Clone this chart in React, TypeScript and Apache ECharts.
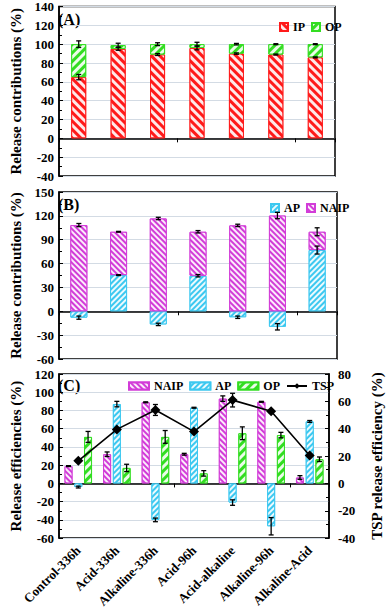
import React, { useEffect, useRef } from "react";
import * as echarts from "echarts";

const categories = ["Control-336h", "Acid-336h", "Alkaline-336h", "Acid-96h", "Acid-alkaline", "Alkaline-96h", "Alkaline-Acid"];

// Panel A (release contributions, %)
const ipA = [65, 95, 89, 96, 90, 89, 86];
const opA = [35, 4, 11, 4, 10, 11, 14];
const ipErrA = [2.8, 1.5, 1, 2, 0.7, 0.5, 0.5];
const totalErrA = [3.5, 2, 1.5, 2, 0.8, 0.5, 0.5];

// Panel B (release contributions, %)
const apB = [-8, 45.5, -16.5, 44.7, -7.5, -19.5, 77];
const naipB = [108.4, 54.5, 116.7, 55.3, 108, 120.4, 23];
const apErrB = [2, 0.5, 1.5, 1.5, 1.5, 4, 5];
const topErrB = [2, 0.5, 1.5, 1.5, 1.5, 4, 5];

// Panel C (release efficiencies, %)
const naipC = [19, 32, 89, 32, 93, 89.5, 6.5];
const apC = [-4, 87, -40, 83, -21, -47, 68];
const opC = [51, 17, 51, 11, 55, 53, 26.5];
const tspC = [16.5, 39.5, 53.7, 37.9, 60.9, 52.7, 20.4];
const naipErrC = [0.5, 2.5, 0.5, 1, 3, 0.5, 2];
const apErrC = [1, 3, 2, 0.5, 3, 9.5, 1];
const opErrC = [6, 4, 7, 3, 7, 3, 2.5];
const tspErrC = [1, 1, 4, 1, 5, 1, 1.5];

const FONT = "Liberation Serif";
const RED = "#ff1a1a";
const GREEN = "#33dd22";
const CYAN = "#3cc8f0";
const MAGENTA = "#d23cd8";
const GRIDLINE = "#d3dbe4";

const decal = (dir: number, gap = 3, w = 2) => ({
  symbol: "rect",
  symbolSize: 1,
  rotation: (dir * Math.PI) / 4,
  dashArrayX: [1, 0],
  dashArrayY: [w, gap],
  color: "rgba(255,255,255,0.9)",
});

function errSeries(xi: number, yi: number, centers: number[], errs: number[], offset = 0) {
  return {
    type: "custom",
    xAxisIndex: xi,
    yAxisIndex: yi,
    z: 10,
    silent: true,
    encode: { x: 0, y: 1 },
    data: centers.map((c, i) => [i, c, errs[i]]),
    renderItem: (params: any, api: any) => {
      const x = api.value(0);
      const y = api.value(1);
      const e = api.value(2);
      const t = api.coord([x, y + e]);
      const b = api.coord([x, y - e]);
      const cx = t[0] + offset;
      const cap = 2.5;
      const st = { stroke: "#000", lineWidth: 1.3 };
      return {
        type: "group",
        children: [
          { type: "line", shape: { x1: cx, y1: t[1], x2: cx, y2: b[1] }, style: st },
          { type: "line", shape: { x1: cx - cap, y1: t[1], x2: cx + cap, y2: t[1] }, style: st },
          { type: "line", shape: { x1: cx - cap, y1: b[1], x2: cx + cap, y2: b[1] }, style: st },
        ],
      };
    },
  };
}

const axisLabelStyle = { fontFamily: FONT, fontWeight: "bold", fontSize: 13, color: "#000" };
const nameStyle = { fontFamily: FONT, fontWeight: "bold", fontSize: 15, color: "#000" };

function valueAxis(gi: number, min: number, max: number, interval: number, name: string, extra: any = {}) {
  return {
    type: "value",
    gridIndex: gi,
    min,
    max,
    interval,
    name,
    nameLocation: "middle",
    nameGap: 36,
    nameTextStyle: nameStyle,
    axisLine: { show: true, lineStyle: { color: "#000", width: 1.5 } },
    axisTick: { show: true, inside: true, length: 4, lineStyle: { color: "#000" } },
    minorTick: { show: true, splitNumber: 2, length: 3, lineStyle: { color: "#000" } },
    axisLabel: { ...axisLabelStyle, margin: 5 },
    splitLine: { show: true, lineStyle: { color: GRIDLINE, width: 1 } },
    ...extra,
  };
}

function zeroAxis(gi: number) {
  return {
    type: "category",
    gridIndex: gi,
    data: categories,
    position: "bottom",
    axisLine: { show: true, onZero: true, lineStyle: { color: "#000", width: 1.5 } },
    axisTick: { show: true, length: 4, lineStyle: { color: "#000" } },
    axisLabel: { show: false },
    splitLine: { show: false },
  };
}

export default function App() {
  const ref = useRef<HTMLDivElement>(null);
  useEffect(() => {
    if (!ref.current) return;
    const chart = echarts.init(ref.current, undefined, { renderer: "svg" });
    const totalA = ipA.map((v, i) => v + opA[i]);
    const topB = apB.map((v, i) => (v > 0 ? v + naipB[i] : naipB[i]));
    const barGap = "22%";
    const cw = 8;
    const off = cw * 1.22;
    const legendText = { fontFamily: FONT, fontWeight: "bold", fontSize: 12, color: "#000" };
    const option: any = {
      animation: false,
      backgroundColor: "#fff",
      grid: [
        { left: 52, top: 6, width: 283, height: 170, show: true, borderColor: "#000", borderWidth: 1.5 },
        { left: 52, top: 192, width: 285, height: 167, show: true, borderColor: "#000", borderWidth: 1.5 },
        { left: 52, top: 374, width: 286, height: 170, show: true, borderColor: "#000", borderWidth: 1.5 },
      ],
      xAxis: [
        zeroAxis(0),
        zeroAxis(1),
        zeroAxis(2),
        {
          type: "category",
          gridIndex: 2,
          data: categories,
          position: "bottom",
          axisLine: { show: false, onZero: false },
          axisTick: { show: false },
          axisLabel: { ...axisLabelStyle, fontSize: 13, rotate: 45, interval: 0, margin: 10 },
          splitLine: { show: false },
        },
      ],
      yAxis: [
        valueAxis(0, -40, 140, 20, "Release contributions (%)"),
        valueAxis(1, -60, 150, 30, "Release contributions (%)"),
        valueAxis(2, -60, 120, 20, "Release efficiencies (%)"),
        valueAxis(2, -40, 80, 20, "TSP release efficiency (%)", {
          position: "right",
          nameGap: 40,
          nameRotate: 90,
          splitLine: { show: false },
          axisLabel: { ...axisLabelStyle, margin: 9 },
        }),
      ],
      legend: [
        {
          data: ["IP", "OP"],
          left: 274,
          top: 16,
          itemWidth: 8,
          itemHeight: 8,
          itemGap: 6,
          textStyle: legendText,
          icon: "rect",
        },
        {
          data: ["AP", "NAIP"],
          left: 265,
          top: 197,
          itemWidth: 8,
          itemHeight: 8,
          itemGap: 6,
          textStyle: legendText,
          icon: "rect",
        },
        {
          data: [
            { name: "NAIP", icon: "rect" },
            { name: "AP", icon: "rect" },
            { name: "OP", icon: "rect" },
            { name: "TSP" },
          ],
          left: 123,
          top: 375,
          itemWidth: 20,
          itemHeight: 7,
          itemGap: 6,
          textStyle: legendText,
        },
      ],
      graphic: [
        { type: "text", left: 58, top: 11, style: { text: "(A)", font: `bold 16px "${FONT}"`, fill: "#000" } },
        { type: "text", left: 58, top: 196, style: { text: "(B)", font: `bold 16px "${FONT}"`, fill: "#000" } },
        { type: "text", left: 58, top: 377, style: { text: "(C)", font: `bold 16px "${FONT}"`, fill: "#000" } },
      ],
      series: [
        // Panel A
        {
          name: "IP", type: "bar", xAxisIndex: 0, yAxisIndex: 0, stack: "a", barWidth: 15, data: ipA,
          itemStyle: { color: RED, borderColor: RED, borderWidth: 1, decal: decal(1, 3, 3) },
        },
        {
          name: "OP", type: "bar", xAxisIndex: 0, yAxisIndex: 0, stack: "a", barWidth: 15, data: opA,
          itemStyle: { color: GREEN, borderColor: GREEN, borderWidth: 1, decal: decal(-1, 3, 3) },
        },
        errSeries(0, 0, ipA, ipErrA),
        errSeries(0, 0, totalA, totalErrA),
        // Panel B
        {
          name: "AP", type: "bar", xAxisIndex: 1, yAxisIndex: 1, stack: "b", barWidth: 17, data: apB,
          itemStyle: { color: CYAN, borderColor: CYAN, borderWidth: 1, decal: decal(-1, 2, 2) },
        },
        {
          name: "NAIP", type: "bar", xAxisIndex: 1, yAxisIndex: 1, stack: "b", barWidth: 17, data: naipB,
          itemStyle: { color: MAGENTA, borderColor: MAGENTA, borderWidth: 1, decal: decal(1, 2, 2) },
        },
        errSeries(1, 1, apB, apErrB),
        errSeries(1, 1, topB, topErrB),
        // Panel C
        {
          name: "NAIP", type: "bar", xAxisIndex: 2, yAxisIndex: 2, barWidth: cw, barGap, data: naipC,
          itemStyle: { color: MAGENTA, borderColor: MAGENTA, borderWidth: 1, decal: decal(1, 2, 2) },
        },
        {
          name: "AP", type: "bar", xAxisIndex: 2, yAxisIndex: 2, barWidth: cw, barGap, data: apC,
          itemStyle: { color: CYAN, borderColor: CYAN, borderWidth: 1, decal: decal(-1, 2, 2) },
        },
        {
          name: "OP", type: "bar", xAxisIndex: 2, yAxisIndex: 2, barWidth: cw, barGap, data: opC,
          itemStyle: { color: GREEN, borderColor: GREEN, borderWidth: 1, decal: decal(-1, 3, 3) },
        },
        errSeries(2, 2, naipC, naipErrC, -off),
        errSeries(2, 2, apC, apErrC, 0),
        errSeries(2, 2, opC, opErrC, off),
        {
          name: "TSP", type: "line", xAxisIndex: 2, yAxisIndex: 3, data: tspC, z: 12,
          symbol: "diamond", symbolSize: 10,
          lineStyle: { color: "#000", width: 1.6 },
          itemStyle: { color: "#000" },
        },
        errSeries(2, 3, tspC, tspErrC, 0),
      ],
    };
    chart.setOption(option);
    return () => chart.dispose();
  }, []);
  return <div ref={ref} style={{ position: "fixed", left: 0, top: 0, width: 392, height: 610 }} />;
}
